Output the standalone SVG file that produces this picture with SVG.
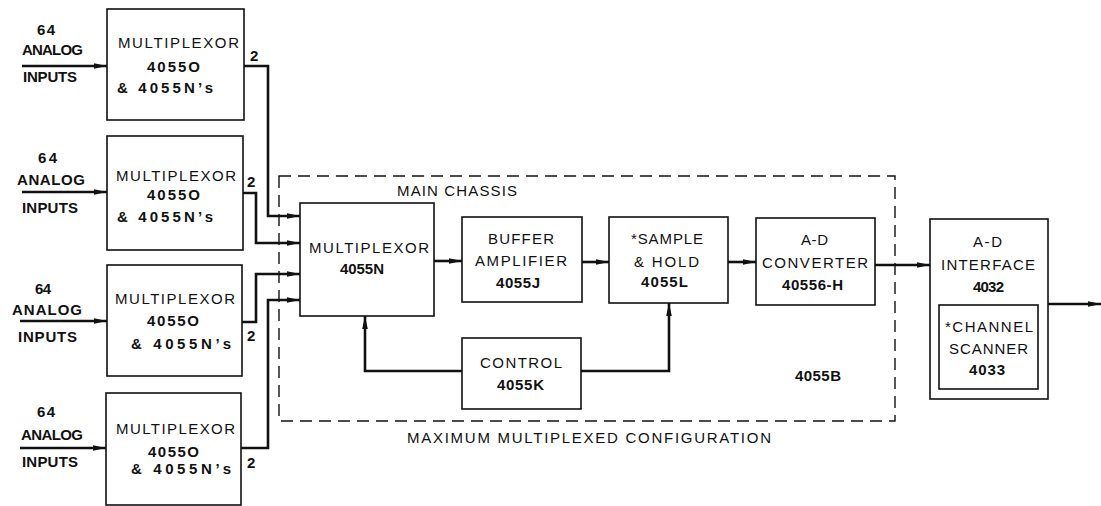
<svg xmlns="http://www.w3.org/2000/svg" width="1101" height="506" viewBox="0 0 1101 506">
<style>
.box{fill:#fff;stroke:#111;stroke-width:1.6}
.ar{fill:none;stroke:#111;stroke-width:2.6;marker-end:url(#ah)}
.dash{fill:none;stroke:#111;stroke-width:1.4;stroke-dasharray:12 7}
text{font-family:"Liberation Sans",Arial,sans-serif;font-size:15px;fill:#111}
.b{font-weight:bold;font-size:15px}
</style>
<defs>
<marker id="ah" markerUnits="userSpaceOnUse" markerWidth="14" markerHeight="8" refX="13" refY="4" orient="auto">
<path d="M0,1.2 L13,4 L0,6.8 Z" fill="#111"/>
</marker>
</defs>
<rect width="1101" height="506" fill="#fff"/>

<rect class="dash" x="279" y="176" width="616" height="245"/>
<text x="397" y="196" textLength="120">MAIN CHASSIS</text>
<text x="407" y="443" textLength="364">MAXIMUM MULTIPLEXED CONFIGURATION</text>
<text class="b" x="795" y="381" textLength="46">4055B</text>

<g id="connectors">
<line class="ar" x1="22" y1="66" x2="107" y2="66"/>
<line class="ar" x1="22" y1="192" x2="107" y2="192"/>
<line class="ar" x1="20" y1="321" x2="107" y2="321"/>
<line class="ar" x1="20" y1="448" x2="106" y2="448"/>
<polyline class="ar" points="244,66 268,66 268,216 300,216"/>
<polyline class="ar" points="243,193 256,193 256,243 300,243"/>
<polyline class="ar" points="242,322 256,322 256,274 300,274"/>
<polyline class="ar" points="241,448 268,448 268,300 300,300"/>
<line class="ar" x1="434" y1="261" x2="462" y2="261"/>
<line class="ar" x1="582" y1="262" x2="609" y2="262"/>
<line class="ar" x1="728" y1="262" x2="756" y2="262"/>
<line class="ar" x1="875" y1="265" x2="930" y2="265"/>
<line class="ar" x1="1048" y1="304" x2="1101" y2="304"/>
<polyline class="ar" points="462,371 365,371 365,316"/>
<polyline class="ar" points="581,371 669,371 669,303"/>
</g>

<g id="inputs">
<text class="b" x="37" y="35" textLength="18">64</text>
<text class="b" x="22" y="55" textLength="61">ANALOG</text>
<text class="b" x="23" y="82" textLength="54">INPUTS</text>
<text class="b" x="38" y="163" textLength="19">64</text>
<text class="b" x="17" y="185" textLength="68">ANALOG</text>
<text class="b" x="22" y="213" textLength="56">INPUTS</text>
<text class="b" x="35" y="294" textLength="16">64</text>
<text class="b" x="12" y="315" textLength="70">ANALOG</text>
<text class="b" x="18" y="342" textLength="59">INPUTS</text>
<text class="b" x="37" y="417" textLength="18">64</text>
<text class="b" x="21" y="440" textLength="62">ANALOG</text>
<text class="b" x="22" y="467" textLength="56">INPUTS</text>
<text class="b" x="250" y="61">2</text>
<text class="b" x="247" y="187">2</text>
<text class="b" x="247" y="341">2</text>
<text class="b" x="247" y="468">2</text>
</g>

<g id="mux1">
<rect class="box" x="107" y="9" width="137" height="111"/>
<text x="118" y="48" textLength="121">MULTIPLEXOR</text>
<text class="b" x="147" y="72" textLength="53">4055O</text>
<text class="b" x="117" y="93" textLength="96">&amp; 4055N’s</text>
</g>
<g id="mux2">
<rect class="box" x="107" y="136" width="136" height="114"/>
<text x="116" y="181" textLength="120">MULTIPLEXOR</text>
<text class="b" x="147" y="200" textLength="53">4055O</text>
<text class="b" x="117" y="222" textLength="96">&amp; 4055N’s</text>
</g>
<g id="mux3">
<rect class="box" x="107" y="265" width="135" height="111"/>
<text x="115" y="304" textLength="120">MULTIPLEXOR</text>
<text class="b" x="147" y="326" textLength="52">4055O</text>
<text class="b" x="131" y="349" textLength="100">&amp; 4055N’s</text>
</g>
<g id="mux4">
<rect class="box" x="106" y="393" width="135" height="112"/>
<text x="116" y="434" textLength="119">MULTIPLEXOR</text>
<text class="b" x="148" y="457" textLength="51">4055O</text>
<text class="b" x="131" y="474" textLength="100">&amp; 4055N’s</text>
</g>

<g id="mainmux">
<rect class="box" x="300" y="203" width="134" height="113"/>
<text x="309" y="253" textLength="120">MULTIPLEXOR</text>
<text class="b" x="340" y="274" textLength="44">4055N</text>
</g>
<g id="buffer">
<rect class="box" x="462" y="217" width="120" height="85"/>
<text x="488" y="244" textLength="66">BUFFER</text>
<text x="475" y="266" textLength="92">AMPLIFIER</text>
<text class="b" x="496" y="288" textLength="44">4055J</text>
</g>
<g id="sample">
<rect class="box" x="609" y="217" width="119" height="86"/>
<text x="631" y="244" textLength="72">*SAMPLE</text>
<text x="634" y="267" textLength="65">&amp; HOLD</text>
<text class="b" x="641" y="287" textLength="47">4055L</text>
</g>
<g id="adc">
<rect class="box" x="756" y="218" width="119" height="87"/>
<text x="801" y="245" textLength="27">A-D</text>
<text x="762" y="268" textLength="106">CONVERTER</text>
<text class="b" x="782" y="290" textLength="61">40556-H</text>
</g>
<g id="control">
<rect class="box" x="462" y="338" width="119" height="71"/>
<text x="480" y="368" textLength="82">CONTROL</text>
<text class="b" x="497" y="390" textLength="47">4055K</text>
</g>
<g id="interface">
<rect class="box" x="930" y="219" width="118" height="180"/>
<text x="973" y="247" textLength="29">A-D</text>
<text x="941" y="270" textLength="94">INTERFACE</text>
<text class="b" x="973" y="292" textLength="31">4032</text>
<rect class="box" x="939" y="305" width="99" height="84"/>
<text x="945" y="332" textLength="88">*CHANNEL</text>
<text x="949" y="354" textLength="79">SCANNER</text>
<text class="b" x="969" y="375" textLength="36">4033</text>
</g>
</svg>
